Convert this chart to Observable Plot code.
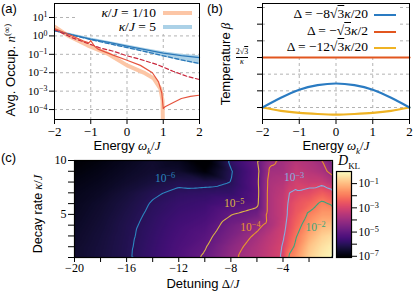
<!DOCTYPE html>
<html><head><meta charset="utf-8">
<script src="https://cdn.jsdelivr.net/npm/d3@7"></script>
<script src="https://cdn.jsdelivr.net/npm/@observablehq/plot@0.6"></script>
<style>
body{margin:0;background:#fff;}
#root{position:relative;width:415px;height:291px;overflow:hidden;background:#fff;font-family:"Liberation Serif",serif;color:#000;}
#root svg{position:absolute;overflow:visible;max-width:none;background:transparent;}
.lab{position:absolute;white-space:nowrap;line-height:1;}
.sans{font-family:"Liberation Sans",sans-serif;}
.m{font-family:"Liberation Serif",serif;font-style:italic;}
.rm{font-family:"Liberation Serif",serif;}
.ol{text-decoration:overline;}
</style></head><body><div id="root"></div>
<script>
// ---------- Panel (a): average occupation (log10 values) ----------
const aOrangeX   = [-2, -1.64, -1.09, -0.54, 0, 0.46, 0.73, 0.92, 0.98, 1.0];
const aOrangeLog = [0.5, 0.03, -0.51, -0.96, -1.6, -1.99, -2.3, -2.86, -3.5, -6];
const aRedX      = [-2, -1.6, -1.2, -1.05, -1.0, -0.9, -0.8, -0.4, 0, 0.37, 0.7, 0.87, 0.96, 1.0, 1.05, 1.28, 1.5, 1.75, 2];
const aRedLog    = [0.4, 0.08, -0.28, -0.38, -0.26, -0.55, -0.72, -1.03, -1.32, -1.6, -2.0, -2.5, -3.1, -3.95, -3.85, -3.62, -3.4, -3.28, -3.22];
const aRedDashX  = [-2, -1.5, -1.1, -0.73, -0.4, 0, 0.36, 0.82, 1.27, 1.66, 2];
const aRedDashLog= [0.35, -0.11, -0.39, -0.66, -0.82, -1.08, -1.27, -1.55, -1.92, -2.2, -2.37];
const aBlueX     = [-2, -1.5, -1, -0.5, 0, 0.5, 1, 1.5, 2];
const aBlueLog   = [0.29, 0.06, -0.17, -0.35, -0.55, -0.75, -0.93, -1.07, -1.18];
const aBlueDashLog = [0.29, 0.04, -0.2, -0.42, -0.63, -0.85, -1.08, -1.3, -1.5];
const aBandHiLog = [0.34, 0.11, -0.12, -0.31, -0.5, -0.69, -0.86, -0.99, -1.08];
const aBandLoLog = [0.23, 0.0, -0.25, -0.47, -0.68, -0.9, -1.14, -1.36, -1.57];
const aTicksX = [-2, -1, 0, 1, 2];
const aTicksYExp = [1, 0, -1, -2, -3, -4];

// ---------- Panel (b): temperature ----------
const bX      = [-2, -1.5, -1, -0.5, 0, 0.5, 1, 1.5, 2];
const bBlue   = [1.0, 1.58, 2.07, 2.34, 2.44, 2.34, 2.07, 1.58, 1.0];
const bRed    = [4, 4, 4, 4, 4, 4, 4, 4, 4];
const bYellow = [1.0, 0.8, 0.68, 0.61, 0.57, 0.61, 0.68, 0.8, 1.0];
const bTicksY = [1, 2, 3, 4, 5, 6, 7];

// ---------- Panel (c): D_KL map, log10 values; columns = Delta, rows = kappa 1..10 ----------
const cDelta = [-20, -18, -16, -14, -12, -10, -8, -6, -5, -4, -3.5, -3, -2, -1, 0];
const cKappa = [1, 2, 3, 4, 5, 6, 7, 8, 9, 10];
const cLogD = [
  [-6.5, -6.5, -6.55, -6.6, -6.65, -6.7, -6.75, -6.85, -6.95, -7.05],
  [-6.3, -6.32, -6.35, -6.4, -6.45, -6.5, -6.6, -6.7, -6.8, -6.9],
  [-6.07, -6.08, -6.1, -6.12, -6.18, -6.25, -6.35, -6.5, -6.6, -6.7],
  [-5.72, -5.76, -5.8, -5.85, -5.9, -5.96, -6.07, -6.3, -6.45, -6.5],
  [-5.35, -5.4, -5.47, -5.55, -5.65, -5.75, -5.9, -6.1, -6.5, -6.7],
  [-4.93, -5.05, -5.2, -5.35, -5.5, -5.65, -5.85, -6.15, -7.0, -7.3],
  [-4.15, -4.3, -4.55, -4.75, -5.03, -5.4, -5.8, -6.0, -6.05, -5.85],
  [-3.6, -3.67, -3.87, -4.2, -4.75, -5.15, -5.2, -5.15, -5.2, -5.05],
  [-3.26, -3.33, -3.45, -3.75, -3.7, -3.7, -3.7, -3.75, -3.9, -4.1],
  [-2.93, -2.97, -3.1, -3.2, -3.3, -3.3, -3.4, -3.6, -3.85, -3.9],
  [-1.85, -2.3, -2.55, -2.75, -2.85, -2.9, -3.0, -3.3, -3.6, -3.75],
  [-1.6, -1.85, -2.05, -2.3, -2.5, -2.65, -2.95, -3.1, -3.35, -3.55],
  [-0.7, -0.9, -1.25, -1.6, -1.9, -2.33, -2.8, -3.25, -3.55, -3.7],
  [-0.3, -0.45, -0.7, -1.1, -1.5, -1.85, -2.45, -3.25, -3.75, -4.0],
  [-0.08, -0.18, -0.45, -0.95, -1.5, -2.2, -2.8, -3.7, -4.4, -4.8]
];
const cLevels = [-6, -5, -4, -3, -2];
const cLevelColors = ["#2c86bf", "#dcb545", "#e8962c", "#86aee0", "#3aa57c"];
const cLabelDelta = [-13.05, -7.75, -6.5, -3.15, -1.5];
const cLabelKappa = [8.35, 6.0, 3.8, 8.4, 3.8];
const cTicksX = [-20, -18, -16, -14, -12, -10, -8, -6, -4, -2];
const cTicksY = [1, 2, 3, 4, 5, 6, 7, 8, 9, 10];
const cbTicks = [-7, -6, -5, -4, -3, -2, -1];

// ---------- helpers ----------
const root = document.getElementById("root");
const NS = "http://www.w3.org/2000/svg";
const minus = s => String(s).replace("-", "\u2212");
const pow10 = e => "10^" + minus(e);
function sup(svg) {
  svg.querySelectorAll("text").forEach(t => {
    const m = /^10\^(.+)$/.exec(t.textContent);
    if (!m) return;
    t.textContent = "";
    const a = document.createElementNS(NS, "tspan"); a.textContent = "10";
    const b = document.createElementNS(NS, "tspan"); b.textContent = m[1];
    b.setAttribute("dy", "-0.45em"); b.setAttribute("font-size", "0.72em");
    t.append(a, b);
  });
}
function put(svg, left, top) { svg.style.left = left + "px"; svg.style.top = top + "px"; sup(svg); root.appendChild(svg); }
function lab(h, css) { const d = document.createElement("div"); d.className = "lab"; d.innerHTML = h; d.style.cssText += css; root.appendChild(d); return d; }
const grid = {stroke: "#b3b3b3", strokeOpacity: 1, strokeDasharray: "3,3", strokeWidth: 1};
const base = {fontFamily: "Liberation Serif", fontSize: "13px", overflow: "visible", background: "transparent"};

// ---------- Panel (a) ----------
const pts = (xs, ls) => xs.map((x, i) => ({x, y: 10 ** ls[i]}));
const band = aBlueX.map((x, i) => ({x, hi: 10 ** aBandHiLog[i], lo: 10 ** aBandLoLog[i]}));
const A = Plot.plot({
  width: 205, height: 140, marginLeft: 54, marginRight: 6, marginTop: 3, marginBottom: 21,
  style: base,
  x: {domain: [-2, 2]},
  y: {type: "log", domain: [10 ** -4.54, 10 ** 1.76]},
  marks: [
    Plot.gridX([-1, 0, 1], grid),
    Plot.gridY(aTicksYExp.map(e => 10 ** e), grid),
    Plot.areaY(band, {x: "x", y1: "lo", y2: "hi", fill: "#abd1e7"}),
    Plot.line(pts(aOrangeX, aOrangeLog), {x: "x", y: "y", stroke: "#fcc6a6", strokeWidth: 4, clip: true}),
    Plot.line(pts(aBlueX, aBlueDashLog), {x: "x", y: "y", stroke: "#2b78b8", strokeWidth: 1.3, strokeDasharray: "4,2.5"}),
    Plot.line(pts(aBlueX, aBlueLog), {x: "x", y: "y", stroke: "#2b78b8", strokeWidth: 1.3}),
    Plot.line(pts(aRedDashX, aRedDashLog), {x: "x", y: "y", stroke: "#c9263b", strokeWidth: 1.2, strokeDasharray: "4,2.5"}),
    Plot.line(pts(aRedX, aRedLog), {x: "x", y: "y", stroke: "#e5533d", strokeWidth: 1.2, clip: true}),
    Plot.frame({stroke: "black", strokeWidth: 1}),
    Plot.axisX(aTicksX, {tickSize: 5, tickPadding: 2, fontSize: 13, label: null, tickFormat: d => minus(d)}),
    Plot.axisY(aTicksYExp.map(e => 10 ** e), {tickSize: 5, tickPadding: 2, fontSize: 11, label: null, tickFormat: d => pow10(Math.round(Math.log10(d)))})
  ]
});
put(A, 0, 0);

// ---------- Panel (b) ----------
const bData = (ys) => bX.map((x, i) => ({x, y: ys[i]}));
const B = Plot.plot({
  width: 210, height: 140, marginLeft: 57, marginRight: 6, marginTop: 3, marginBottom: 21,
  style: base,
  x: {domain: [-2, 2]},
  y: {domain: [0.28, 7.24]},
  marks: [
    Plot.gridX([-1, 0, 1], grid),
    Plot.gridY(bTicksY, grid),
    Plot.line(bData(bRed), {x: "x", y: "y", stroke: "#e2561f", strokeWidth: 2.2}),
    Plot.line(bData(bYellow), {x: "x", y: "y", stroke: "#efb324", strokeWidth: 2.2, curve: "natural"}),
    Plot.line(bData(bBlue), {x: "x", y: "y", stroke: "#2a7bc2", strokeWidth: 2.2, curve: "natural"}),
    Plot.frame({stroke: "black", strokeWidth: 1}),
    Plot.axisX([-2, -1, 0, 1, 2], {tickSize: 5, tickPadding: 2, fontSize: 13, label: null, tickFormat: d => minus(d)}),
    Plot.axisY(bTicksY, {tickSize: 5, label: null, tickFormat: () => ""})
  ]
});
put(B, 205, 0);

// ---------- Panel (c) ----------
const cData = [];
cDelta.forEach((d, i) => cKappa.forEach((k, j) => cData.push({d, k, v: cLogD[i][j]})));
const colorOpt = {type: "linear", scheme: "magma", domain: [-7.1, 0], clamp: true};
const cLabels = cLevels.map((l, i) => ({d: cLabelDelta[i], k: cLabelKappa[i], t: pow10(l), c: cLevelColors[i]}));
const C = Plot.plot({
  width: 335, height: 151, marginLeft: 74, marginRight: 3, marginTop: 20, marginBottom: 34,
  style: base,
  x: {domain: [-20, -0.2]},
  y: {domain: [1, 10]},
  color: colorOpt,
  marks: [
    Plot.raster(cData, {x: "d", y: "k", fill: "v", interpolate: "barycentric"}),
    ...cLevels.map((l, i) => Plot.contour(cData, {x: "d", y: "k", value: "v", interpolate: "barycentric", thresholds: [l], fill: "none", stroke: cLevelColors[i], strokeWidth: 1.1})),
    Plot.text(cLabels, {x: "d", y: "k", text: "t", fill: "c", fontSize: 11.5, fontFamily: "Liberation Serif"}),
    Plot.frame({stroke: "black", strokeWidth: 1.2}),
    Plot.axisX(cTicksX, {tickSize: 5, tickPadding: 1, fontSize: 12, label: null, tickFormat: d => d % 4 === 0 ? minus(d) : ""}),
    Plot.axisY(cTicksY, {tickSize: 6, tickPadding: 2, fontSize: 12, label: null, tickFormat: d => d % 5 === 0 ? String(d) : ""})
  ]
});
put(C, 0, 140);

// ---------- colorbar ----------
const CB = Plot.plot({
  width: 85, height: 131, marginLeft: 6, marginRight: 64, marginTop: 11, marginBottom: 34,
  style: base,
  x: {domain: [0, 1], axis: null},
  y: {domain: [-7.1, 0]},
  color: colorOpt,
  marks: [
    Plot.raster({x1: 0, x2: 1, y1: -7.1, y2: 0, fill: (x, y) => y}),
    Plot.frame({stroke: "black", strokeWidth: 1.2}),
    Plot.axisY(cbTicks, {anchor: "right", tickSize: 5, tickPadding: 2, fontSize: 11.5, label: null, tickFormat: d => d % 2 ? pow10(d) : ""})
  ]
});
put(CB, 330, 160);

// ---------- text ----------
lab("(a)", "left:1px;top:1px;font:13px 'Liberation Sans';");
lab("(b)", "left:207px;top:1px;font:13px 'Liberation Sans';");
lab("(c)", "left:1px;top:150px;font:13px 'Liberation Sans';");
lab("<span class='sans'>Energy</span> <span class='m'>ω<sub style='font-size:9px'>k</sub></span><span class='rm'>/</span><span class='m'>J</span>", "left:127px;top:139px;font-size:13px;transform:translateX(-50%);");
lab("<span class='sans'>Energy</span> <span class='m'>ω<sub style='font-size:9px'>k</sub></span><span class='rm'>/</span><span class='m'>J</span>", "left:336px;top:139px;font-size:13px;transform:translateX(-50%);");
lab("<span class='sans'>Detuning</span> <span class='rm'>Δ/</span><span class='m'>J</span>", "left:203px;top:277px;font-size:13px;transform:translateX(-50%);");
lab("<span class='sans'>Avg. Occup.</span> <span class='m'>n</span><sup class='rm' style='font-size:9px'>(∞)</sup>", "left:10px;top:70px;font-size:13px;transform:translate(-50%,-50%) rotate(-90deg);");
lab("<span class='sans'>Temperature</span> <span class='m'>β</span>", "left:225px;top:64px;font-size:13px;transform:translate(-50%,-50%) rotate(-90deg);");
lab("<span class='sans'>Decay rate</span> <span class='m'>κ</span><span class='rm'>/</span><span class='m'>J</span>", "left:38px;top:214px;font-size:12.5px;transform:translate(-50%,-50%) rotate(-90deg);");
lab("<span class='m'>D</span><sub class='rm' style='font-size:9px'>KL</sub>", "left:338px;top:154px;font-size:14px;");
// fraction tick label in (b): 2√3 / κ
lab("2√<span class='ol'>3</span>", "left:242px;top:48px;font-size:8px;transform:translateX(-50%);");
lab("", "left:236px;top:57px;width:12px;height:0;border-top:0.8px solid #000;");
lab("<span class='m'>κ</span>", "left:242px;top:58px;font-size:8px;transform:translateX(-50%);");

// legend (a)
lab("", "left:78px;top:4px;width:120px;height:30px;background:#fff;");
lab("<span class='m'>κ</span>/<span class='m'>J</span> = 1/10", "left:156px;top:6px;font-size:13.5px;transform:translateX(-100%);");
lab("<span class='m'>κ</span>/<span class='m'>J</span> = 5", "left:156px;top:20px;font-size:13.5px;transform:translateX(-100%);");
lab("", "left:163px;top:11px;width:29px;height:4px;background:#fcc6a6;");
lab("", "left:163px;top:25px;width:29px;height:4px;background:#abd1e7;");

// legend (b)
lab("", "left:266px;top:4px;width:134px;height:50px;background:#fff;");
const legB = ["Δ = −8√<span class='ol'>3</span><span class='m'>κ</span>/20", "Δ = −√<span class='ol'>3</span><span class='m'>κ</span>/2", "Δ = −12√<span class='ol'>3</span><span class='m'>κ</span>/20"];
const legBC = ["#2a7bc2", "#e2561f", "#efb324"];
const legBY = [15, 32, 48];
legB.forEach((t, i) => {
  lab(t, `left:368px;top:${legBY[i] - 8}px;font-size:13.5px;transform:translateX(-100%);`);
  lab("", `left:374px;top:${legBY[i] - 1}px;width:22px;height:2.2px;background:${legBC[i]};`);
});
</script></body></html>
